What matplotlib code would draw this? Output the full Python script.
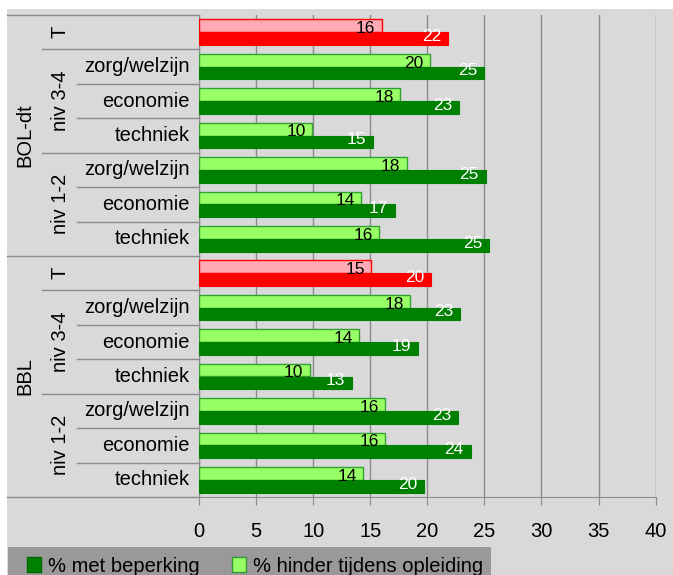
import numpy as np
import matplotlib.pyplot as plt
from matplotlib.transforms import blended_transform_factory
from matplotlib.patches import Rectangle, Patch

plt.rcParams['font.family'] = ['Liberation Sans', 'DejaVu Sans']

# data (van boven naar beneden per groep: T, niv 3-4 x3, niv 1-2 x3)
groepen = ['BOL-dt', 'BBL']
niveaus = ['T', 'niv 3-4', 'niv 1-2']
richtingen = ['zorg/welzijn', 'economie', 'techniek']

hinder_bol = [16.0, 20.2, 17.6, 9.9, 18.2, 14.2, 15.8]
beperking_bol = [21.8, 25.0, 22.8, 15.2, 25.1, 17.2, 25.4]
hinder_bbl = [15.1, 18.5, 14.0, 9.7, 16.3, 16.3, 14.4]
beperking_bbl = [20.3, 22.9, 19.2, 13.4, 22.7, 23.8, 19.7]

xticks = [0, 5, 10, 15, 20, 25, 30, 35, 40]

hinder = np.array(hinder_bol + hinder_bbl)
beperking = np.array(beperking_bol + beperking_bbl)
n = len(hinder)
rijen = np.arange(n)
is_totaal = np.array([i % 7 == 0 for i in rijen])

W, H = 673, 575
bg = '#d9d9d9'
lijn = '#8c8c8c'

fig = plt.figure(figsize=(W / 100, H / 100), dpi=100, facecolor='white')
fig.patches.append(Rectangle((7 / W, 0), 1, 1 - 9 / H, transform=fig.transFigure,
                             facecolor=bg, edgecolor='none', zorder=-10))
ax = fig.add_axes([199 / W, 1 - 497 / H, 456.6 / W, 482 / H])
ax.set_facecolor(bg)

bh = 0.37
licht_kl = np.where(is_totaal, '#ffaab4', '#99ff66')
licht_rand = np.where(is_totaal, '#ff0000', '#33a033')
donker_kl = np.where(is_totaal, '#ff0000', '#008000')

ax.barh(rijen - bh / 2, hinder, height=bh, color=licht_kl, edgecolor=licht_rand,
        linewidth=1, zorder=3)
ax.barh(rijen + bh / 2, beperking, height=bh, color=donker_kl, edgecolor=donker_kl,
        linewidth=0.8, zorder=3)

for i in rijen:
    ax.text(hinder[i] - 0.55, i - bh / 2 + 0.08, f'{hinder[i]:.0f}', ha='right',
            va='center', fontsize=12.5, color='black', zorder=4)
    ax.text(beperking[i] - 0.6, i + bh / 2 - 0.06, f'{beperking[i]:.0f}', ha='right',
            va='center', fontsize=12.5, color='white', zorder=4)

ax.set_xlim(0, 40)
ax.set_ylim(n - 0.5, -0.5)
ax.set_xticks(xticks)
ax.tick_params(axis='x', direction='out', length=6, color=lijn, pad=12,
               labelsize=14.5)
ax.tick_params(axis='y', left=False, labelleft=False)
ax.grid(axis='x', color=lijn, linewidth=1, zorder=0)
for s in ['top', 'right']:
    ax.spines[s].set_visible(False)
for s in ['left', 'bottom']:
    ax.spines[s].set_color(lijn)

# categorie-assen links
tr = blended_transform_factory(fig.transFigure, ax.transData)
x_as = 199 / W
ax.plot([7 / W, x_as], [-0.5, -0.5], transform=tr, clip_on=False, color=lijn, lw=1)
for i in rijen:
    j = i % 7
    if j == 6:
        x0 = 7 / W
    elif j in (0, 3):
        x0 = 42 / W
    else:
        x0 = 77 / W
    ax.plot([x0, x_as], [i + 0.5, i + 0.5], transform=tr, clip_on=False,
            color=lijn, lw=1)
    if j == 0:
        ax.text(60 / W, i, niveaus[0], transform=tr, rotation=90, ha='center',
                va='center', fontsize=14.5)
    else:
        ax.text(190 / W, i, richtingen[(j - 1) % 3], transform=tr, ha='right',
                va='center', fontsize=14.5)

for g, naam in enumerate(groepen):
    ax.text(25 / W, g * 7 + 3, naam, transform=tr, rotation=90, ha='center',
            va='center', fontsize=14.5)
    for k, niv in enumerate(niveaus[1:]):
        ax.text(60 / W, g * 7 + 2 + 3 * k, niv, transform=tr, rotation=90,
                ha='center', va='center', fontsize=14.5)

# legenda
fig.patches.append(Rectangle((8 / W, 0), 483 / W, 1 - 547 / H, transform=fig.transFigure,
                             facecolor='#999999', edgecolor='none', zorder=-5))
handles = [Patch(facecolor='#008000', edgecolor='#006600', label='% met beperking'),
           Patch(facecolor='#99ff66', edgecolor='#339933',
                 label='% hinder tijdens opleiding')]
fig.legend(handles=handles, loc='center left', bbox_to_anchor=(27 / W, 1 - 566 / H),
           ncol=2, frameon=False, fontsize=14.5, borderpad=0, borderaxespad=0,
           handlelength=0.7, handleheight=0.7, handletextpad=0.35,
           columnspacing=1.6)

fig.savefig('out.png', dpi=100, facecolor='white')
